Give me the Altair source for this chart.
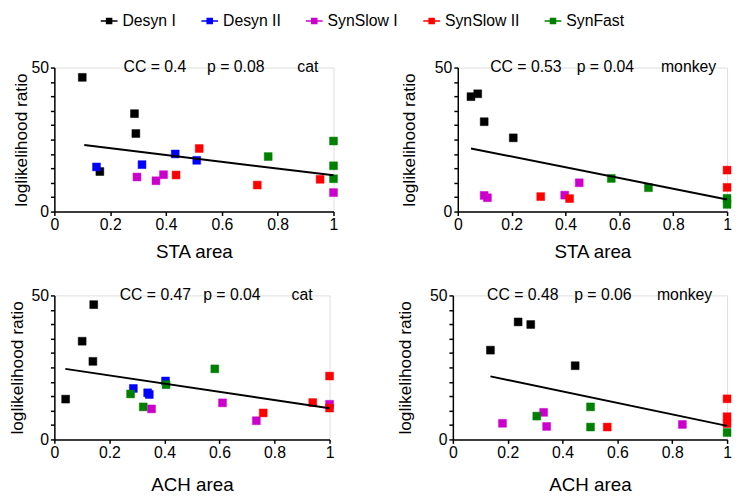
import altair as alt
import pandas as pd

groups = ["Desyn I", "Desyn II", "SynSlow I", "SynSlow II", "SynFast"]
colors = ["#000000", "#0000ff", "#cc00cc", "#ff0000", "#008000"]

# Panel 1: STA area, cat
p1_group = ["Desyn I"] * 4 + ["Desyn II"] * 4 + ["SynSlow I"] * 4 + ["SynSlow II"] * 4 + ["SynFast"] * 4
p1_x = [0.10, 0.287, 0.292, 0.163, 0.151, 0.314, 0.433, 0.51, 0.296, 0.364, 0.391, 1.0,
        0.436, 0.519, 0.727, 0.952, 0.766, 1.0, 1.0, 1.0]
p1_y = [46.6, 34.0, 27.1, 13.9, 15.5, 16.3, 20.0, 17.8, 12.0, 10.7, 12.8, 6.6,
        12.7, 21.9, 9.2, 11.2, 19.1, 24.5, 15.9, 11.4]
p1_fit_x = [0.107, 1.0]
p1_fit_y = [23.1, 12.6]

# Panel 2: STA area, monkey
p2_group = ["Desyn I"] * 4 + ["SynSlow I"] * 4 + ["SynSlow II"] * 4 + ["SynFast"] * 4
p2_x = [0.049, 0.074, 0.098, 0.206, 0.098, 0.110, 0.397, 0.451,
        0.308, 0.415, 1.0, 1.0, 0.570, 0.708, 1.0, 1.0]
p2_y = [39.9, 40.9, 31.2, 25.6, 5.6, 4.8, 5.7, 10.0,
        5.2, 4.5, 14.4, 8.4, 11.5, 8.3, 4.6, 2.5]
p2_fit_x = [0.049, 1.0]
p2_fit_y = [21.9, 4.2]

# Panel 3: ACH area, cat
p3_group = ["Desyn I"] * 4 + ["Desyn II"] * 4 + ["SynFast"] * 4 + ["SynSlow I"] * 4 + ["SynSlow II"] * 4
p3_x = [0.143, 0.101, 0.140, 0.041, 0.287, 0.339, 0.345, 0.404,
        0.277, 0.323, 0.406, 0.583, 0.353, 0.611, 0.734, 1.0,
        0.759, 0.939, 1.0, 1.0]
p3_y = [46.8, 34.1, 27.1, 14.0, 17.7, 16.2, 15.6, 20.3,
        15.8, 11.3, 19.0, 24.5, 10.6, 12.7, 6.5, 12.2,
        9.2, 12.8, 22.0, 10.9]
p3_fit_x = [0.040, 1.0]
p3_fit_y = [24.5, 10.8]

# Panel 4: ACH area, monkey
p4_group = ["Desyn I"] * 4 + ["SynSlow I"] * 4 + ["SynFast"] * 4 + ["SynSlow II"] * 4
p4_x = [0.137, 0.238, 0.284, 0.446, 0.181, 0.331, 0.342, 0.837,
        0.306, 0.502, 0.502, 1.0, 0.563, 1.0, 1.0, 1.0]
p4_y = [31.0, 40.8, 39.9, 25.6, 5.6, 9.4, 4.5, 5.2,
        8.1, 11.3, 4.3, 2.4, 4.3, 14.1, 7.9, 5.5]
p4_fit_x = [0.137, 1.0]
p4_fit_y = [21.9, 4.7]

cc_text = ["CC = 0.4", "CC = 0.53", "CC = 0.47", "CC = 0.48"]
cc_x = [0.36, 0.253, 0.367, 0.255]
p_text = ["p = 0.08", "p = 0.04", "p = 0.04", "p = 0.06"]
p_x = [0.65, 0.548, 0.645, 0.547]
species = ["cat", "monkey", "cat", "monkey"]
species_x = [0.908, 0.857, 0.90, 0.845]
x_titles = ["STA area", "STA area", "ACH area", "ACH area"]
widths = [283, 273, 279, 278]
y_title_pad = [0, 16, 4, 15]
x_title_pad = [11, 11, 16, 16]

FONT = "Liberation Sans"
y_ticks = list(range(0, 51, 5))
x_ticks = [0, 0.2, 0.4, 0.6, 0.8, 1.0]

color_scale = alt.Scale(domain=groups, range=colors)
legend = alt.Legend(
    title=None, orient="none", direction="horizontal", legendX=46, legendY=-57,
    symbolType="M-1,0L1,0M-0.3,-0.3L0.3,-0.3L0.3,0.3L-0.3,0.3Z",
    symbolSize=289, symbolStrokeWidth=1.5, labelFont=FONT, labelFontSize=16,
    labelColor="#000", columnPadding=22, labelOffset=4, padding=0,
)


def panel(i, gx, xs, ys, fx, fy):
    df = pd.DataFrame({"x": xs, "y": ys, "group": gx})
    fit = pd.DataFrame({"x": fx, "y": fy})
    ann = pd.DataFrame({"x": [cc_x[i], p_x[i], species_x[i]], "y": [50, 50, 50],
                        "t": [cc_text[i], p_text[i], species[i]]})
    xax = alt.Axis(values=x_ticks,
                   labelExpr="datum.value == 0 ? '0' : datum.value == 1 ? '1' : format(datum.value, '.1f')",
                   title=x_titles[i], grid=False, tickSize=4, tickWidth=1.5, labelFontSize=16,
                   titleFontSize=19, labelFont=FONT, titleFont=FONT, titleFontWeight="normal",
                   labelPadding=1, titlePadding=x_title_pad[i], domainColor="#000", tickColor="#000",
                   labelColor="#000", titleColor="#000", domainWidth=1.5, labelFlush=False,
                   labelOverlap=False)
    yax = alt.Axis(values=y_ticks, labelExpr="datum.value == 0 || datum.value == 50 ? datum.label : ''",
                   title="loglikelihood ratio", grid=False, ticks=True, tickSize=4, tickWidth=1.5,
                   labelFontSize=16, titleFontSize=17.5, labelFont=FONT, titleFont=FONT,
                   titleFontWeight="normal", labelPadding=2, titlePadding=y_title_pad[i],
                   domainColor="#000", tickColor="#000", labelColor="#000", titleColor="#000",
                   domainWidth=1.5, labelOverlap=False, labelFlush=False)
    xs_ = alt.Scale(domain=[0, 1], nice=False)
    ys_ = alt.Scale(domain=[0, 50], nice=False)
    X = alt.X("x:Q", scale=xs_, axis=xax)
    Y = alt.Y("y:Q", scale=ys_, axis=yax)
    pts = alt.Chart(df).mark_square(size=64, opacity=1, strokeWidth=0.5).encode(
        x=X, y=Y,
        fill=alt.Fill("group:N", scale=color_scale, legend=legend),
        stroke=alt.Stroke("group:N", scale=color_scale, legend=legend),
    )
    line = alt.Chart(fit).mark_line(color="#000", strokeWidth=2).encode(x=X, y=Y)
    txt = alt.Chart(ann).mark_text(font=FONT, fontSize=16, color="#000", baseline="middle").encode(
        x=X, y=Y, text="t:N")
    return alt.layer(pts, line, txt).properties(width=widths[i], height=146)


c1 = panel(0, p1_group, p1_x, p1_y, p1_fit_x, p1_fit_y)
c2 = panel(1, p2_group, p2_x, p2_y, p2_fit_x, p2_fit_y)
c3 = panel(2, p3_group, p3_x, p3_y, p3_fit_x, p3_fit_y)
c4 = panel(3, p4_group, p4_x, p4_y, p4_fit_x, p4_fit_y)

chart = alt.vconcat(
    alt.hconcat(c1, c2, spacing=61),
    alt.hconcat(c3, c4, spacing=61),
    spacing=24,
).resolve_scale(fill="shared", stroke="shared").configure_view(stroke=None).configure(
    padding={"left": 0, "top": 0, "right": 0, "bottom": 0}
)

chart.save("out.html", embed_options={"renderer": "svg", "actions": False})
